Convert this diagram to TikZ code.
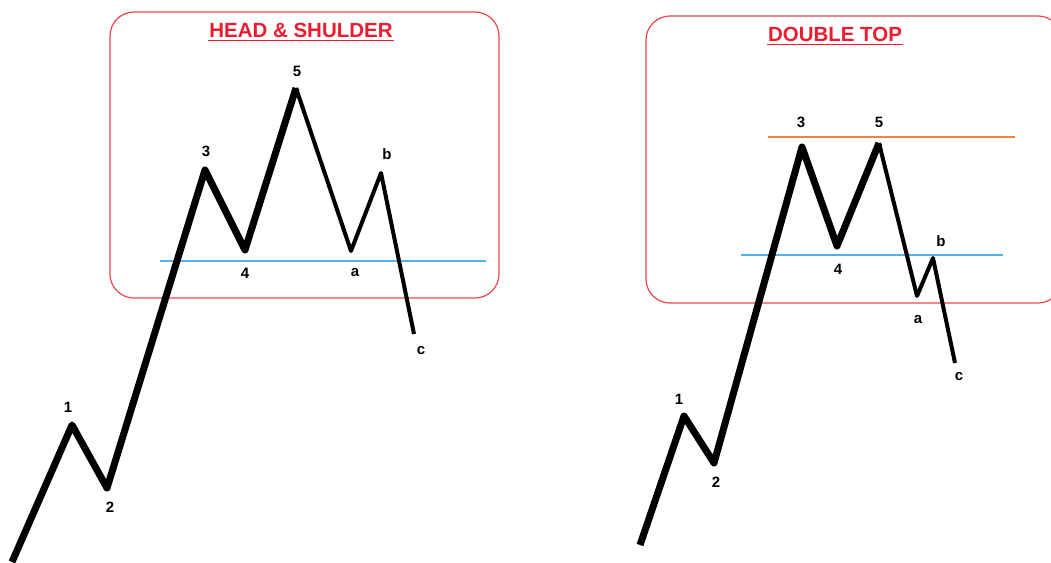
\documentclass[tikz,border=0pt]{standalone}
\usepackage{fontspec}
\setmainfont{Liberation Sans}
\usetikzlibrary{positioning}
\definecolor{framered}{RGB}{238, 70, 80}
\definecolor{titlered}{RGB}{235, 28, 48}
\definecolor{neckblue}{RGB}{80, 180, 230}
\definecolor{toporange}{RGB}{242, 130, 60}

\begin{document}
\begin{tikzpicture}[
    x=1pt, y=-1pt,
    every node/.style={font=\bfseries},
    frame/.style={draw=framered, line width=1.2pt, rounded corners=24pt},
    title/.style={text=titlered, font=\bfseries\fontsize{20.5}{20.5}\selectfont, inner sep=1pt},
    uline/.style={titlered, line width=1.8pt},
    lbl/.style={font=\bfseries\fontsize{15}{15}\selectfont, inner sep=0pt},
    bigwave/.style={line width=7pt, line join=round, line cap=butt},
    smallwave/.style={line width=4pt, line join=round, line cap=butt},
    level/.style={line width=1.2pt}
]
    \useasboundingbox (0,0) rectangle (1051,562);
    \clip (0,0) rectangle (1051,562);

    % ---- head & shoulder ----
    \draw [frame] (110,12) rectangle (499,298);
    \node (hstitle) [title] at (301,30) {HEAD \& SHULDER};
    \draw [uline] ([yshift=-2pt]hstitle.south west) -- ([yshift=-2pt]hstitle.south east);

    \coordinate (h0) at (12,562);
    \coordinate (h1) at (72,425);
    \coordinate (h2) at (107,488);
    \coordinate (h3) at (205,170);
    \coordinate (h4) at (245,250);
    \coordinate (h5) at (296,88);
    \coordinate (ha) at (351,251);
    \coordinate (hb) at (381,173);
    \coordinate (hc) at (414,334);

    \coordinate (hnl) at (160,261);
    \coordinate (hnr) at (486,261);
    \draw [level, neckblue] (hnl) -- (hnr);

    \draw [bigwave] (h0) -- (h1) -- (h2) -- (h3) -- (h4) -- (h5);
    \draw [smallwave] (h5) -- (ha) -- (hb) -- (hc);

    \node (hl1) [lbl] at (68,407) {1};
    \node (hl2) [lbl] at (110,507) {2};
    \node (hl3) [lbl] at (206,151) {3};
    \node (hl4) [lbl] at (245,273) {4};
    \node (hl5) [lbl] at (297,71) {5};
    \node (hla) [lbl] at (355,273) {a};
    \node (hlb) [lbl] at (387,154) {b};
    \node (hlc) [lbl] at (421,351) {c};

    % ---- double top ----
    \draw [frame] (646,16) rectangle (1062,303);
    \node (dttitle) [title] at (835,34) {DOUBLE TOP};
    \draw [uline] ([yshift=-2pt]dttitle.south west) -- ([yshift=-2pt]dttitle.south east);

    \coordinate (d0) at (640,545);
    \coordinate (d1) at (684,416);
    \coordinate (d2) at (714,463);
    \coordinate (d3) at (802,147);
    \coordinate (d4) at (837,246);
    \coordinate (d5) at (879,143);
    \coordinate (da) at (917,296);
    \coordinate (db) at (933,258);
    \coordinate (dc) at (955,363);

    \coordinate (dtl) at (768,137);
    \coordinate (dtr) at (1015,137);
    \draw [level, toporange] (dtl) -- (dtr);
    \coordinate (dnl) at (741,255);
    \coordinate (dnr) at (1003,255);
    \draw [level, neckblue] (dnl) -- (dnr);

    \draw [bigwave] (d0) -- (d1) -- (d2) -- (d3) -- (d4) -- (d5);
    \draw [smallwave] (d5) -- (da) -- (db) -- (dc);

    \node (dl1) [lbl] at (679,399) {1};
    \node (dl2) [lbl] at (716,482) {2};
    \node (dl3) [lbl] at (801,122) {3};
    \node (dl4) [lbl] at (838,269) {4};
    \node (dl5) [lbl] at (879,122) {5};
    \node (dla) [lbl] at (918,320) {a};
    \node (dlb) [lbl] at (941,241) {b};
    \node (dlc) [lbl] at (959,377) {c};
\end{tikzpicture}
\end{document}
